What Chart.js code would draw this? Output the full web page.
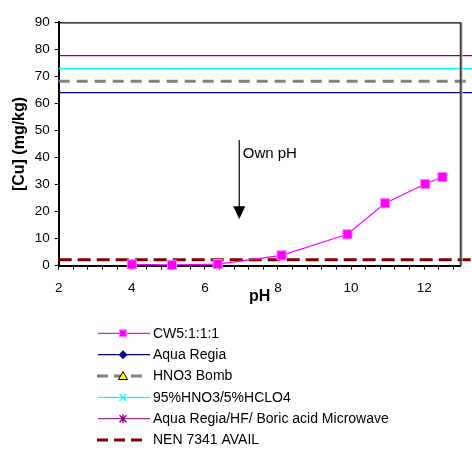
<!DOCTYPE html>
<html><head><meta charset="utf-8">
<script src="https://cdn.jsdelivr.net/npm/chart.js@4"></script>
<style>html,body{margin:0;padding:0;background:#fff}#wrap{width:472px;height:454px}</style>
</head><body><div id="wrap"><canvas id="c" width="472" height="454"></canvas></div>
<script>
// ---- data ----
const seriesNames = ['CW5:1:1:1', 'Aqua Regia', 'HNO3 Bomb', '95%HNO3/5%HCLO4', 'Aqua Regia/HF/ Boric acid Microwave', 'NEN 7341 AVAIL'];
const cwPH = [4.0, 5.1, 6.35, 8.1, 9.9, 10.93, 12.03, 12.5];
const cwCu = [0.5, 0.3, 0.6, 3.8, 11.6, 23.1, 30.2, 32.8];
const aquaRegia = 64.0;
const hno3Bomb = 68.2;
const hno3Hclo4 = 72.9;
const arHfMicrowave = 77.7;
const nenAvail = 2.2;
const refSpanPH = [2, 14];
const xTickLabels = [2, 4, 6, 8, 10, 12];
const xMinorStep = 0.4;
const yTickStep = 10;
const arrowPH = 6.94;
const arrowFromCu = 46.5;
const arrowToCu = 17.2;
const arrowLabel = 'Own pH';
const xTitle = 'pH';
const yTitle = '[Cu] (mg/kg)';

const FONT = "'Liberation Sans', Arial, sans-serif";
const flat = v => refSpanPH.map(x => ({x: x, y: v}));

const colors = ['#FF00FF', '#000080', '#808080', '#00FFFF', '#800080', '#800000'];

const datasets = [
  {label: seriesNames[0], data: cwPH.map((x, i) => ({x: x, y: cwCu[i]})), borderColor: colors[0], borderWidth: 1.2,
   pointStyle: 'rect', pointRadius: 6.5, backgroundColor: '#FF00FF', pointBorderColor: '#FF80FF', pointBorderWidth: 1, clip: false},
  {label: seriesNames[1], data: flat(aquaRegia), borderColor: colors[1], borderWidth: 1.3, pointRadius: 0, clip: false},
  {label: seriesNames[2], data: flat(hno3Bomb), borderColor: colors[2], borderWidth: 3, borderDash: [11, 7], pointRadius: 0, clip: false},
  {label: seriesNames[3], data: flat(hno3Hclo4), borderColor: colors[3], borderWidth: 1.6, pointRadius: 0, clip: false},
  {label: seriesNames[4], data: flat(arHfMicrowave), borderColor: colors[4], borderWidth: 1.3, pointRadius: 0, clip: false},
  {label: seriesNames[5], data: flat(nenAvail), borderColor: colors[5], borderWidth: 3, borderDash: [13, 6], pointRadius: 0, clip: false}
];

const frame = {
  id: 'frame',
  afterDatasetsDraw(chart) {
    const {ctx, chartArea: a} = chart;
    ctx.save();
    ctx.strokeStyle = '#000'; ctx.lineWidth = 1.2;
    ctx.beginPath(); ctx.moveTo(a.left, a.top + 0.5); ctx.lineTo(a.right, a.top + 0.5); ctx.stroke();
    ctx.strokeStyle = '#c8c8c8'; ctx.lineWidth = 1;
    ctx.beginPath(); ctx.moveTo(a.right + 1.5, a.top + 1); ctx.lineTo(a.right + 1.5, a.bottom + 1); ctx.stroke();
    ctx.strokeStyle = '#404040'; ctx.lineWidth = 2;
    ctx.beginPath(); ctx.moveTo(a.right, a.top); ctx.lineTo(a.right, a.bottom); ctx.stroke();
    // arrow annotation
    const xs = chart.scales.x, ys = chart.scales.y;
    const ax = xs.getPixelForValue(arrowPH), y0 = ys.getPixelForValue(arrowFromCu), y1 = ys.getPixelForValue(arrowToCu);
    ctx.strokeStyle = '#000'; ctx.lineWidth = 1.2;
    ctx.beginPath(); ctx.moveTo(ax, y0); ctx.lineTo(ax, y1 - 10); ctx.stroke();
    ctx.fillStyle = '#000';
    ctx.beginPath(); ctx.moveTo(ax - 6, y1 - 13); ctx.lineTo(ax + 6, y1 - 13); ctx.lineTo(ax, y1); ctx.closePath(); ctx.fill();
    ctx.font = '15px ' + FONT; ctx.textBaseline = 'middle'; ctx.textAlign = 'left';
    ctx.fillText(arrowLabel, ax + 3.5, y0 + 13.5);
    ctx.restore();
  }
};

function marker(ctx, kind, x, y) {
  ctx.save();
  ctx.setLineDash([]);
  if (kind === 'rect') {
    ctx.fillStyle = '#FF00FF'; ctx.fillRect(x - 3.5, y - 3.5, 7, 7);
    ctx.strokeStyle = '#FF80FF'; ctx.lineWidth = 1; ctx.strokeRect(x - 3.5, y - 3.5, 7, 7);
  } else if (kind === 'diamond') {
    ctx.fillStyle = '#000080';
    ctx.beginPath(); ctx.moveTo(x, y - 4.5); ctx.lineTo(x + 4.5, y); ctx.lineTo(x, y + 4.5); ctx.lineTo(x - 4.5, y); ctx.closePath(); ctx.fill();
  } else if (kind === 'triangle') {
    ctx.fillStyle = '#FFFF00'; ctx.strokeStyle = '#000'; ctx.lineWidth = 1;
    ctx.beginPath(); ctx.moveTo(x, y - 4.5); ctx.lineTo(x + 4.5, y + 3.5); ctx.lineTo(x - 4.5, y + 3.5); ctx.closePath(); ctx.fill(); ctx.stroke();
  } else if (kind === 'cross') {
    ctx.strokeStyle = '#00FFFF'; ctx.lineWidth = 1.3;
    ctx.beginPath(); ctx.moveTo(x - 3.5, y - 3.5); ctx.lineTo(x + 3.5, y + 3.5); ctx.moveTo(x + 3.5, y - 3.5); ctx.lineTo(x - 3.5, y + 3.5); ctx.stroke();
  } else if (kind === 'star') {
    ctx.strokeStyle = '#800080'; ctx.lineWidth = 1.3;
    ctx.beginPath(); ctx.moveTo(x - 3.5, y - 3.5); ctx.lineTo(x + 3.5, y + 3.5); ctx.moveTo(x + 3.5, y - 3.5); ctx.lineTo(x - 3.5, y + 3.5);
    ctx.moveTo(x, y - 4.5); ctx.lineTo(x, y + 4.5); ctx.stroke();
  }
  ctx.restore();
}

const legendMarkers = ['rect', 'diamond', 'triangle', 'cross', 'star', null];
const legendLineColors = ['#FF00FF', '#000080', '#808080', '#00FFFF', '#993399', '#800000'];
const customLegend = {
  id: 'customLegend',
  afterDraw(chart) {
    const ctx = chart.ctx;
    ctx.save();
    chart.data.datasets.forEach((ds, i) => {
      const y = 333.3 + i * 21.35;
      ctx.strokeStyle = legendLineColors[i];
      ctx.lineWidth = ds.borderDash ? 3 : 1.3;
      ctx.setLineDash(ds.borderDash ? [11, 6] : []);
      ctx.beginPath(); ctx.moveTo(ds.borderDash ? 97 : 98, y); ctx.lineTo(ds.borderDash ? 148 : 150, y); ctx.stroke();
      if (legendMarkers[i]) marker(ctx, legendMarkers[i], 123, y);
      ctx.setLineDash([]);
      ctx.fillStyle = '#000'; ctx.font = '14px ' + FONT; ctx.textBaseline = 'middle'; ctx.textAlign = 'left';
      ctx.fillText(ds.label, 153, y + 0.5);
    });
    ctx.restore();
  }
};

new Chart(document.getElementById('c'), {
  type: 'line',
  data: {datasets: datasets},
  plugins: [frame, customLegend],
  options: {
    responsive: false, animation: false, devicePixelRatio: 1,
    layout: {padding: {left: 0, right: 11.3, top: 22.3, bottom: 148.3}},
    plugins: {legend: {display: false}, tooltip: {enabled: false}},
    elements: {line: {tension: 0}},
    scales: {
      x: {
        type: 'linear', min: 2, max: 13, position: 'bottom',
        afterBuildTicks: s => {
          const t = [];
          for (let k = 0; 2 + k * xMinorStep <= 12.9; k++) t.push({value: Math.round((2 + k * xMinorStep) * 10) / 10});
          s.ticks = t;
        },
        afterFit: s => { s.height = 40; },
        ticks: {
          autoSkip: false, maxRotation: 0, padding: 10, color: '#000', font: {family: FONT, size: 13.5},
          callback: v => xTickLabels.includes(v) ? String(v) : ''
        },
        grid: {drawOnChartArea: false, drawTicks: true, tickLength: 4, color: '#000', lineWidth: 1},
        border: {display: true, color: '#000', width: 2},
        title: {display: true, text: xTitle, color: '#000', font: {family: FONT, size: 16, weight: 'bold'}, padding: {top: 0, bottom: 0}}
      },
      y: {
        type: 'linear', min: 0, max: 90,
        afterFit: s => { s.width = 58.7; },
        ticks: {stepSize: yTickStep, padding: 5, color: '#000', font: {family: FONT, size: 13.5}},
        grid: {drawOnChartArea: false, drawTicks: true, tickLength: 4, color: '#000', lineWidth: 1},
        border: {display: true, color: '#000', width: 2},
        title: {display: true, text: yTitle, color: '#000', font: {family: FONT, size: 16, weight: 'bold'}, padding: {top: 9.5, bottom: 0}}
      }
    }
  }
});
</script>
</body></html>
